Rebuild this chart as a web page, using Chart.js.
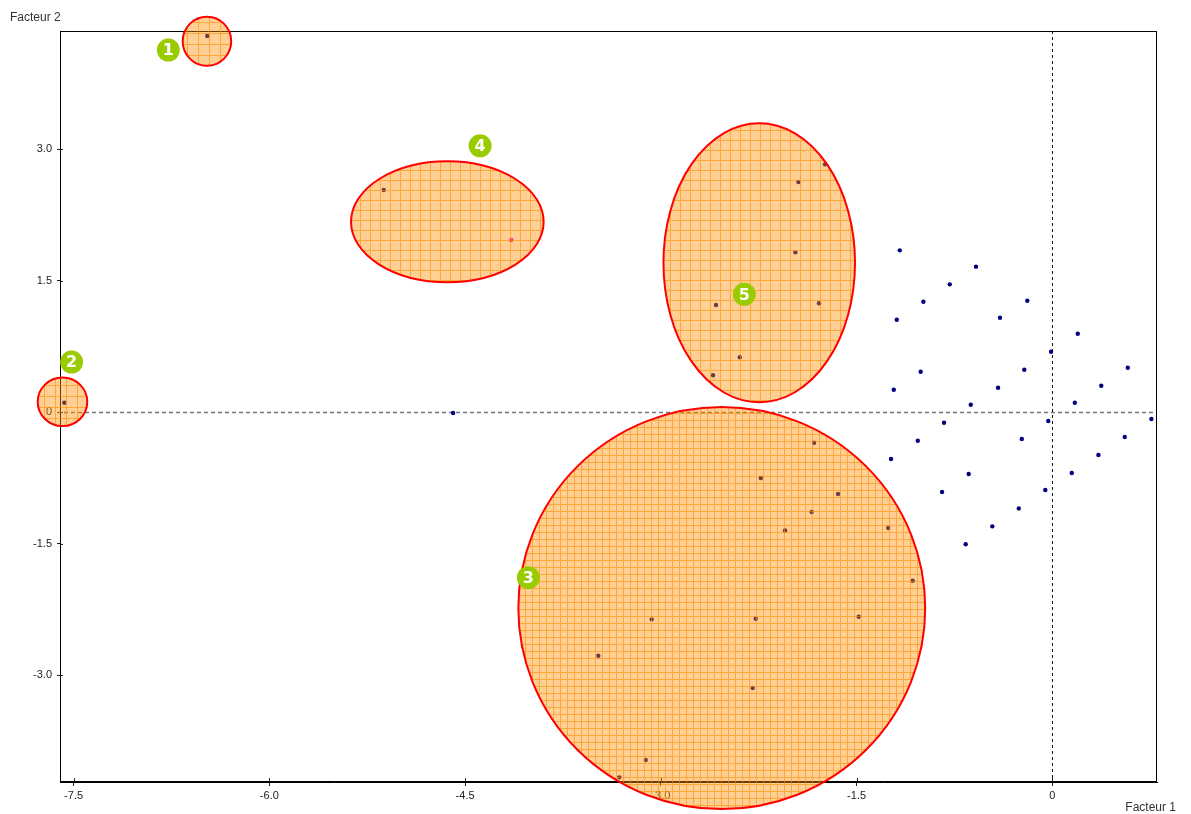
<!DOCTYPE html>
<html>
<head>
<meta charset="utf-8">
<script src="https://cdn.jsdelivr.net/npm/chart.js@4.4.0/dist/chart.umd.min.js"></script>
<style>
  html, body { margin: 0; padding: 0; background: #fff; overflow: hidden; }
  canvas { display: block; }
</style>
</head>
<body>
<canvas id="plan" width="1191" height="814"></canvas>
<script>
// ---- axis ticks ----
const xTicks = [-7.5, -6.0, -4.5, -3.0, -1.5, 0];
const xTickLabels = ['-7.5', '-6.0', '-4.5', '-3.0', '-1.5', '0'];
const yTicks = [3.0, 1.5, 0, -1.5, -3.0];
const yTickLabels = ['3.0', '1.5', '0', '-1.5', '-3.0'];
const xRange = [-7.604, 0.802];
const yRange = [-4.22, 4.346];
const xTitle = 'Facteur 1';
const yTitle = 'Facteur 2';

// ---- individuals (factor 1, factor 2) ----
const indivX = [
  -6.476,                                   // class 1
  -7.571,                                   // class 2
  -1.826, -2.234, -1.642, -1.844, -2.048, -1.257, -1.070,
  -3.070, -2.273, -1.484, -3.479, -2.296, -3.116, -3.318, // class 3
  -5.123,                                   // class 4
  -1.742, -1.946, -1.969, -1.788, -2.577, -2.395, -2.600, // class 5
  -1.169, -0.585, -0.786, -0.988, -0.192, -1.192, -0.401, 0.195,
  -0.010, -1.009, -0.215, 0.578, -1.215, -0.416, 0.375, -0.625,
  0.172, 0.759, -0.031, -0.830, -1.031, -0.234, 0.555, -1.236,
  0.353, -0.641, 0.149, -0.845, -0.054, -0.257, -0.460, -0.664,
  -4.592
];
const indivY = [
  4.289,
  0.106,
  -0.350, -0.753, -0.935, -1.141, -1.350, -1.323, -1.924,
  -2.365, -2.358, -2.335, -2.780, -3.148, -3.969, -4.167,
  2.532,
  2.825, 2.623, 1.821, 1.240, 1.220, 0.624, 0.419,
  1.844, 1.658, 1.456, 1.258, 1.270, 1.053, 1.076, 0.893,
  0.688, 0.460, 0.483, 0.505, 0.254, 0.277, 0.300, 0.083,
  0.106, -0.080, -0.103, -0.122, -0.327, -0.308, -0.285, -0.536,
  -0.490, -0.707, -0.696, -0.913, -0.890, -1.099, -1.304, -1.509,
  -0.011
];
// highlighted individual in class 4
const markedX = [-4.146];
const markedY = [1.962];

// ---- classes: ellipse centre, half-axes (data units) and badge ----
const classNames = ['1', '2', '3', '4', '5'];
const classCx = [-6.478, -7.585, -2.533, -4.636, -2.246];
const classCy = [4.229, 0.117, -2.236, 2.170, 1.702];
const classRx = [0.186, 0.190, 1.559, 0.738, 0.734];
const classRy = [0.280, 0.277, 2.293, 0.690, 1.591];
const badgeX = [-6.774, -7.515, -4.015, -4.385, -2.360];
const badgeY = [4.129, 0.570, -1.890, 3.037, 1.342];

// hatch cell size for each ellipse (px)
const hatchCell = [11, 11, 7, 10, 10];

const FONT = "'Liberation Sans', Arial, sans-serif";

// translucent orange tile: 1px grid line on two edges, fine checker inside
function hatchPattern(ctx, cell) {
  const c = document.createElement('canvas');
  c.width = cell; c.height = cell;
  const g = c.getContext('2d');
  const img = g.createImageData(cell, cell);
  for (let y = 0; y < cell; y++) {
    for (let x = 0; x < cell; x++) {
      const i = (y * cell + x) * 4;
      let a;
      if (x === 0 || y === 0) a = 0.78;
      else if ((x + y) % 2) a = 0.46;
      else a = 0.38;
      img.data[i] = 255; img.data[i + 1] = 142; img.data[i + 2] = 0;
      img.data[i + 3] = Math.round(a * 255);
    }
  }
  g.putImageData(img, 0, 0);
  return ctx.createPattern(c, 'repeat');
}

// frame, zero lines and inner halves of the tick marks
const framePlugin = {
  id: 'frame',
  beforeDatasetsDraw(chart) {
    const { ctx, chartArea: a, scales: { x, y } } = chart;
    ctx.save();
    const x0 = Math.round(x.getPixelForValue(0)) + 0.5;
    const y0 = Math.round(y.getPixelForValue(0)) + 0.5;
    ctx.lineWidth = 1.6;
    ctx.strokeStyle = '#777';
    ctx.setLineDash([4, 3]);
    ctx.beginPath(); ctx.moveTo(a.left - 3, y0); ctx.lineTo(a.right, y0); ctx.stroke();
    ctx.lineWidth = 1;
    ctx.strokeStyle = '#111';
    ctx.setLineDash([3, 3]);
    ctx.beginPath(); ctx.moveTo(x0, a.top); ctx.lineTo(x0, a.bottom); ctx.stroke();
    ctx.setLineDash([]);
    ctx.strokeStyle = '#000';
    ctx.lineWidth = 1;
    ctx.strokeRect(Math.round(a.left) + 0.5, Math.round(a.top) + 0.5,
                   Math.round(a.right - a.left) - 1, Math.round(a.bottom - a.top) - 1);
    ctx.strokeStyle = '#222';
    ctx.beginPath();
    xTicks.forEach(v => {
      const px = Math.round(x.getPixelForValue(v)) + 0.5;
      ctx.moveTo(px, a.bottom); ctx.lineTo(px, a.bottom - 4);
    });
    yTicks.forEach(v => {
      const py = Math.round(y.getPixelForValue(v)) + 0.5;
      ctx.moveTo(a.left, py); ctx.lineTo(a.left + 3, py);
    });
    ctx.stroke();
    ctx.fillStyle = '#333';
    ctx.font = '12px ' + FONT;
    ctx.textBaseline = 'middle';
    ctx.textAlign = 'left';
    ctx.fillText(yTitle, 10, 18);
    ctx.textAlign = 'right';
    ctx.fillText(xTitle, 1176, 808);
    ctx.restore();
  }
};

// class ellipses and numbered badges
const classPlugin = {
  id: 'classes',
  afterDatasetsDraw(chart) {
    const { ctx, scales: { x, y } } = chart;
    ctx.save();
    classNames.forEach((name, i) => {
      const cx = x.getPixelForValue(classCx[i]);
      const cy = y.getPixelForValue(classCy[i]);
      const rx = x.getPixelForValue(classCx[i] + classRx[i]) - cx;
      const ry = cy - y.getPixelForValue(classCy[i] + classRy[i]);
      ctx.beginPath();
      ctx.ellipse(cx, cy, rx, ry, 0, 0, Math.PI * 2);
      ctx.fillStyle = hatchPattern(ctx, hatchCell[i]);
      ctx.fill();
      ctx.lineWidth = 2;
      ctx.strokeStyle = '#ff0000';
      ctx.stroke();
    });
    classNames.forEach((name, i) => {
      const bx = x.getPixelForValue(badgeX[i]);
      const by = y.getPixelForValue(badgeY[i]);
      ctx.beginPath();
      ctx.arc(bx, by, 11.5, 0, Math.PI * 2);
      ctx.fillStyle = '#99cc00';
      ctx.fill();
      ctx.fillStyle = '#ffffff';
      ctx.font = "bold 16px 'DejaVu Sans', sans-serif";
      ctx.textAlign = 'center';
      ctx.textBaseline = 'middle';
      ctx.fillText(name, bx, by + 1);
    });
    ctx.restore();
  }
};

const toPoints = (xs, ys) => xs.map((v, i) => ({ x: v, y: ys[i] }));

new Chart(document.getElementById('plan'), {
  type: 'scatter',
  data: {
    datasets: [
      {
        data: toPoints(indivX, indivY),
        backgroundColor: '#000080',
        borderWidth: 0,
        pointRadius: 2.2
      },
      {
        data: toPoints(markedX, markedY),
        backgroundColor: '#ff00ff',
        borderWidth: 0,
        pointRadius: 2.2
      }
    ]
  },
  options: {
    responsive: false,
    animation: false,
    devicePixelRatio: 1,
    layout: { padding: { left: 0, top: 31, right: 34, bottom: 0 } },
    plugins: { legend: { display: false }, tooltip: { enabled: false } },
    scales: {
      x: {
        type: 'linear',
        min: xRange[0], max: xRange[1],
        afterFit(s) { s.height = 32; },
        afterBuildTicks(s) { s.ticks = xTicks.map(v => ({ value: v })); },
        grid: { drawOnChartArea: false, tickLength: 4, color: '#222' },
        border: { display: true, color: '#000', width: 1 },
        ticks: {
          padding: 3,
          color: '#222',
          font: { family: FONT, size: 11 },
          maxRotation: 0,
          autoSkip: false,
          callback: (v, i) => xTickLabels[i]
        }
      },
      y: {
        type: 'linear',
        min: yRange[0], max: yRange[1],
        afterFit(s) { s.width = 60; },
        afterBuildTicks(s) { s.ticks = yTicks.map(v => ({ value: v })); },
        grid: { drawOnChartArea: false, tickLength: 3, color: '#222' },
        border: { display: true, color: '#000', width: 1 },
        ticks: {
          padding: 5,
          color: '#222',
          font: { family: FONT, size: 11 },
          autoSkip: false,
          callback: (v, i) => yTickLabels[i]
        }
      }
    }
  },
  plugins: [framePlugin, classPlugin]
});
</script>
</body>
</html>
